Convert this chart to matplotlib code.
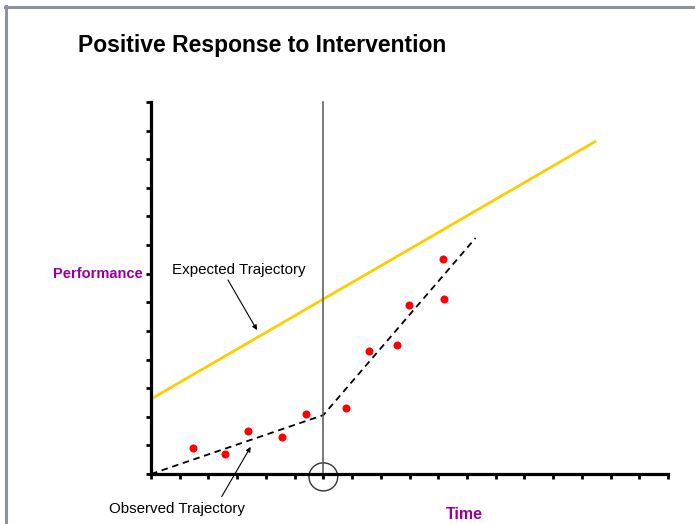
import matplotlib
matplotlib.use("Agg")
import matplotlib.pyplot as plt
from matplotlib.patches import Ellipse
from matplotlib.lines import Line2D

plt.rcParams['font.family'] = ['Liberation Sans', 'DejaVu Sans']

# data
x_ticks = list(range(0, 19))
y_ticks = list(range(0, 14))
intervention_x = 6

expected_x = [0, 15.5]
expected_y = [2.62, 11.64]

trend_x = [0, 6, 11.3]
trend_y = [0, 2.06, 8.25]

points_x = [1.46, 2.57, 3.38, 4.57, 5.39, 6.78, 7.58, 8.58, 8.99, 10.17, 10.2]
points_y = [0.90, 0.70, 1.50, 1.29, 2.10, 2.31, 4.31, 4.52, 5.92, 7.52, 6.13]

purple = "#990099"

fig = plt.figure(figsize=(6.95, 5.24), dpi=100)
ax = fig.add_axes([0.2173, 0.0954, 0.7439, 0.7099])

# frame around the slide
fig.add_artist(Line2D([0.008, 0.008], [0.0, 0.988], color="#8e939c", lw=2.2))
fig.add_artist(Line2D([0.007, 1.0], [0.987, 0.987], color="#8e939c", lw=2.2))

ax.plot(expected_x, expected_y, color="#FFCC00", lw=2, solid_capstyle="butt")
ax.plot(trend_x, trend_y, color="black", lw=1.3, linestyle=(0, (3.6, 2.6)), clip_on=False)
ax.plot(points_x, points_y, "o", color="red", ms=5.8, mec="none", clip_on=False)
ax.plot([intervention_x, intervention_x], [0, y_ticks[-1]], color="#555555", lw=1.1, clip_on=False)
ax.add_patch(Ellipse((intervention_x, -0.1), 1.0, 0.98, fill=False, ec="#333333", lw=1, clip_on=False))

ax.set_xlim(x_ticks[0], x_ticks[-1])
ax.set_ylim(y_ticks[0], y_ticks[-1])
ax.set_xticks(x_ticks)
ax.set_yticks(y_ticks)
ax.set_xticklabels([])
ax.set_yticklabels([])
ax.tick_params(length=3.5, width=2, direction="out")
for s in ["top", "right"]:
    ax.spines[s].set_visible(False)
for s in ["left", "bottom"]:
    ax.spines[s].set_linewidth(2.3)
ax.patch.set_alpha(0)

arrow = dict(arrowstyle="-|>", color="black", lw=0.8, mutation_scale=7, shrinkA=0, shrinkB=0)
ax.text(3.07, 7.13, "Expected Trajectory", ha="center", va="center", fontsize=10.9)
ax.annotate("", xy=(3.69, 5.03), xytext=(2.68, 6.78), arrowprops=arrow)
ax.text(0.89, -1.22, "Observed Trajectory", ha="center", va="center", fontsize=10.9, clip_on=False)
ax.annotate("", xy=(3.47, 0.95), xytext=(2.46, -0.79), annotation_clip=False, arrowprops=arrow)

ax.text(-0.28, 7, "Performance", color=purple, fontsize=10.5, fontweight="bold", ha="right", va="center")
ax.text(10.9, -1.4, "Time", color=purple, fontsize=11.5, fontweight="bold", ha="center", va="center")

fig.text(0.112, 0.914, "Positive Response to Intervention", fontsize=16.5, fontweight="bold", ha="left", va="center")

fig.savefig("out.png", dpi=100)
